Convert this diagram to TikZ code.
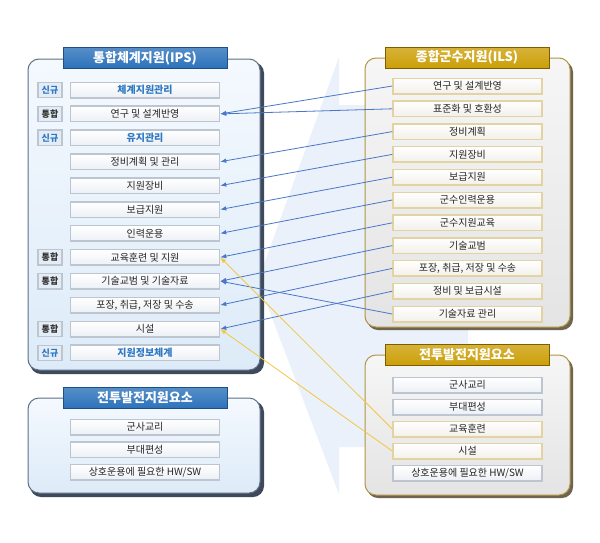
\documentclass[tikz,border=0pt]{standalone}
\usepackage{fontspec}
\setmainfont{Noto Sans CJK KR}
\usetikzlibrary{arrows.meta}
\definecolor{bgarrow}{HTML}{EAF1FA}
\definecolor{ipsfilltop}{HTML}{F4F9FE}
\definecolor{ipsfillbot}{HTML}{DDEBF8}
\definecolor{ipsedge}{HTML}{5E6F86}
\definecolor{ipsshadow}{HTML}{3E4A5B}
\definecolor{hdrblue}{HTML}{2C72BA}
\definecolor{hdrblueedge}{HTML}{1B4F86}
\definecolor{ilsfilltop}{HTML}{F6F6F6}
\definecolor{ilsfillbot}{HTML}{E4E4E4}
\definecolor{ilsedge}{HTML}{B39443}
\definecolor{ilsshadow}{HTML}{6E6450}
\definecolor{hdrgold}{HTML}{CC9F08}
\definecolor{hdrgoldedge}{HTML}{7A5E00}
\definecolor{rowedge}{HTML}{BCC5D0}
\definecolor{rowbot}{HTML}{ECF0F5}
\definecolor{ilsrowedge}{HTML}{E3D3A2}
\definecolor{ilsrowbot}{HTML}{F2F0EA}
\definecolor{tagfill}{HTML}{E4ECF5}
\definecolor{bluetext}{HTML}{2E78C4}
\definecolor{linkblue}{HTML}{4A76C8}
\definecolor{linkgold}{HTML}{F5C640}
\tikzset{
  rowtext/.style={font=\fontsize{10}{11}\selectfont, text=black!85},
  ipsrow/.style={rowtext, draw=rowedge, line width=1.5pt, top color=white, bottom color=rowbot,
     minimum width=149pt, minimum height=15.5pt, inner sep=0pt},
  ilsrow/.style={ipsrow, draw=ilsrowedge, bottom color=ilsrowbot},
  bluerow/.style={ipsrow, font=\fontsize{10}{11}\selectfont\bfseries, text=bluetext},
  tagbox/.style={draw=rowedge, line width=1.3pt, fill=tagfill, minimum width=24pt, minimum height=15.5pt,
     inner sep=0pt, font=\fontsize{9}{10}\selectfont},
  newtag/.style={tagbox, text=bluetext, font=\fontsize{9}{10}\selectfont\bfseries},
  mrgtag/.style={tagbox, text=black!80, font=\fontsize{9}{10}\selectfont\bfseries},
  hdrb/.style={draw=hdrblueedge, line width=1pt, top color=hdrblue!80!white, bottom color=hdrblue,
     text=white, font=\fontsize{13}{14}\selectfont\bfseries, minimum width=164pt, minimum height=21pt, inner sep=0pt},
  hdrg/.style={hdrb, draw=hdrgoldedge, top color=hdrgold!80!white, bottom color=hdrgold},
  ipsbox/.style={draw=ipsedge, line width=1pt, top color=ipsfilltop, bottom color=ipsfillbot, rounded corners=11pt},
  ipsshad/.style={fill=ipsshadow, rounded corners=11pt},
  ilsbox/.style={draw=ilsedge, line width=1pt, top color=ilsfilltop, bottom color=ilsfillbot, rounded corners=11pt},
  ilsshad/.style={fill=ilsshadow, rounded corners=11pt},
  bluelink/.style={draw=linkblue, line width=0.8pt, -{Latex[length=6pt,width=4.5pt]}},
  goldlink/.style={draw=linkgold, line width=0.8pt, -{Latex[length=6pt,width=4.5pt]}},
}
\begin{document}
\begin{tikzpicture}[x=1pt,y=-1pt]
\useasboundingbox (0,0) rectangle (600,542);
\fill[white] (0,0) rectangle (600,542);
% background arrow
\fill[bgarrow] (258,281) -- (339,57) -- (339,105) -- (468,105) -- (468,447) -- (339,447) -- (339,494) -- cycle;

% ---- IPS box ----
\path[ipsshad] (30,62) rectangle (264,374);
\path[ipsbox] (28,59) rectangle (260,370);
\node[hdrb] (ipsh) at (145,58) {통합체계지원(IPS)};

\node[newtag] (t0) at (50,90) {신규};
\node[mrgtag] (t1) at (50,113.9) {통합};
\node[newtag] (t2) at (50,137.8) {신규};
\node[mrgtag] (t7) at (50,257.3) {통합};
\node[mrgtag] (t8) at (50,281.2) {통합};
\node[mrgtag] (t10) at (50,329) {통합};
\node[newtag] (t11) at (50,352.9) {신규};

\node[bluerow] (L0) at (145,90) {체계지원관리};
\node[ipsrow] (L1) at (145,113.9) {연구 및 설계반영};
\node[bluerow] (L2) at (145,137.8) {유지관리};
\node[ipsrow] (L3) at (145,161.7) {정비계획 및 관리};
\node[ipsrow] (L4) at (145,185.6) {지원장비};
\node[ipsrow] (L5) at (145,209.5) {보급지원};
\node[ipsrow] (L6) at (145,233.4) {인력운용};
\node[ipsrow] (L7) at (145,257.3) {교육훈련 및 지원};
\node[ipsrow] (L8) at (145,281.2) {기술교범 및 기술자료};
\node[ipsrow] (L9) at (145,305.1) {포장, 취급, 저장 및 수송};
\node[ipsrow] (L10) at (145,329) {시설};
\node[bluerow] (L11) at (145,352.9) {지원정보체계};

% ---- bottom-left box ----
\path[ipsshad] (30,401) rectangle (264,497);
\path[ipsbox] (28,398) rectangle (260,493);
\node[hdrb] (cbh) at (145,398) {전투발전지원요소};
\node[ipsrow] (C0) at (145,427) {군사교리};
\node[ipsrow] (C1) at (145,449.5) {부대편성};
\node[ipsrow] (C2) at (145,472) {상호운용에 필요한 HW/SW};

% ---- ILS box ----
\path[ilsshad] (367,61) rectangle (573,330);
\path[ilsbox] (365,58) rectangle (570,327);
\node[hdrg] (ilsh) at (467,57.5) {종합군수지원(ILS)};
\node[ilsrow] (R0) at (467.5,86) {연구 및 설계반영};
\node[ilsrow] (R1) at (467.5,108.8) {표준화 및 호환성};
\node[ilsrow] (R2) at (467.5,131.6) {정비계획};
\node[ilsrow] (R3) at (467.5,154.4) {지원장비};
\node[ilsrow] (R4) at (467.5,177.2) {보급지원};
\node[ilsrow] (R5) at (467.5,200) {군수인력운용};
\node[ilsrow] (R6) at (467.5,222.8) {군수지원교육};
\node[ilsrow] (R7) at (467.5,245.6) {기술교범};
\node[ilsrow] (R8) at (467.5,268.4) {포장, 취급, 저장 및 수송};
\node[ilsrow] (R9) at (467.5,291.2) {정비 및 보급시설};
\node[ilsrow] (R10) at (467.5,314) {기술자료 관리};

% ---- bottom-right box ----
\path[ilsshad] (367,358) rectangle (573,498);
\path[ilsbox] (365,355) rectangle (570,495);
\node[hdrg] (bbh) at (467,355) {전투발전지원요소};
\node[ipsrow] (B0) at (467.5,385) {군사교리};
\node[ipsrow] (B1) at (467.5,407) {부대편성};
\node[ilsrow] (B2) at (467.5,429) {교육훈련};
\node[ilsrow] (B3) at (467.5,451) {시설};
\node[ipsrow] (B4) at (467.5,473) {상호운용에 필요한 HW/SW};

% ---- connectors ----
\draw[bluelink] (R0.west) -- (L1.east);
\draw[bluelink] (R1.west) -- (L1.east);
\draw[bluelink] (R2.west) -- (L3.east);
\draw[bluelink] (R3.west) -- (L4.east);
\draw[bluelink] (R4.west) -- (L5.east);
\draw[bluelink] (R5.west) -- (L6.east);
\draw[bluelink] (R6.west) -- (L7.east);
\draw[bluelink] (R7.west) -- (L8.east);
\draw[bluelink] (R8.west) -- (L9.east);
\draw[bluelink] (R9.west) -- (L10.east);
\draw[bluelink] (R10.west) -- (L8.east);
\draw[goldlink] (B2.west) -- (L7.east);
\draw[goldlink] (B3.west) -- (L10.east);
\end{tikzpicture}
\end{document}
